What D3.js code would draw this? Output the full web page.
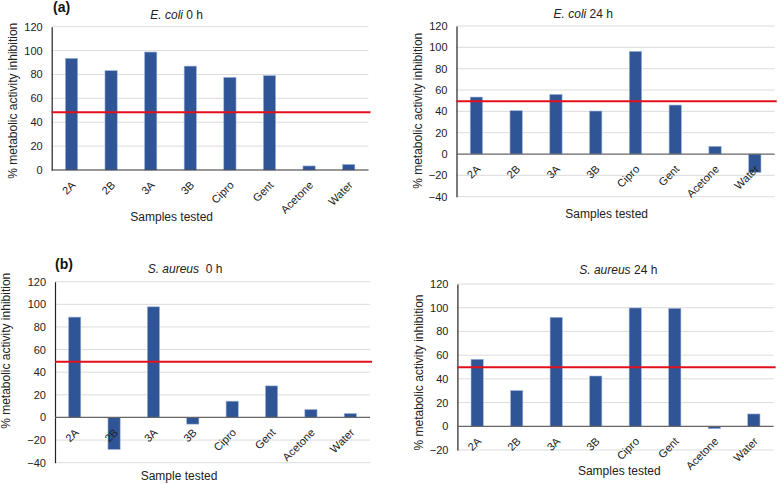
<!DOCTYPE html>
<html><head><meta charset="utf-8">
<script src="https://cdn.jsdelivr.net/npm/d3@7"></script>
<style>
html,body{margin:0;padding:0;background:#fff;}
svg{display:block;font-family:"Liberation Sans",Arial,Helvetica,sans-serif;}
</style></head>
<body>
<svg id="c" width="778" height="484"></svg>
<script>
const categories = ["2A","2B","3A","3B","Cipro","Gent","Acetone","Water"];
const ecoli0    = [93.5, 83.2, 98.8, 87.0, 77.6, 79.0, 3.4, 4.7];
const ecoli24   = [53.4, 40.6, 55.9, 40.3, 96.2, 45.9, 7.2, -17.2];
const saureus0  = [88.7, -28.3, 97.8, -5.9, 14.4, 27.9, 7.0, 3.5];
const saureus24 = [56.5, 30.1, 91.9, 42.4, 99.8, 99.5, -2.0, 10.4];
const thresholds = [48.3, 49.4, 49.2, 49.7];
const ticks1 = [0,20,40,60,80,100,120];
const ticks2 = [-40,-20,0,20,40,60,80,100,120];
const ticks3 = [-40,-20,0,20,40,60,80,100,120];
const ticks4 = [-20,0,20,40,60,80,100,120];
const titles = ["E. coli", "E. coli", "S. aureus", "S. aureus"];
const titleTimes = [" 0 h", " 24 h", "  0 h", " 24 h"];
const xTitles = ["Samples tested","Samples tested","Sample tested","Samples tested"];
const yTitle = "% metabolic activity inhibition";

const panels = [
  {vals: ecoli0, ticks: ticks1, x0:51.7, x1:368.5, yTop:26.7, yBot:170, tx:176.7, ty:19.3, xtx:171.7, xty:220.7, ytx:17.3, yty:100.8, tag:"(a)", tagx:53, tagy:12},
  {vals: ecoli24, ticks: ticks2, x0:456.5, x1:774.7, yTop:26, yBot:196.7, tx:583.3, ty:18.3, xtx:606.7, xty:218.3, ytx:422.3, yty:110.8},
  {vals: saureus0, ticks: ticks3, x0:55, x1:370, yTop:281.7, yBot:462.7, tx:185, ty:273.3, xtx:179, xty:480, ytx:10, yty:350.8, tag:"(b)", tagx:55, tagy:269},
  {vals: saureus24, ticks: ticks4, x0:457.4, x1:773.6, yTop:284, yBot:450, tx:618.3, ty:274.3, xtx:619.3, xty:475, ytx:423.3, yty:372.5}
];

const svg = d3.select("#c");

panels.forEach((p, i) => {
  const g = svg.append("g");
  const dom = d3.extent(p.ticks);
  const y = d3.scaleLinear().domain(dom).range([p.yBot, p.yTop]);
  const x = d3.scaleBand().domain(categories).range([p.x0, p.x1]).paddingInner(0.69).paddingOuter(0.345);

  // gridlines
  g.append("g").selectAll("line").data(p.ticks.filter(t => t !== 0)).join("line")
    .attr("x1", p.x0).attr("x2", p.x1)
    .attr("y1", d => y(d)).attr("y2", d => y(d))
    .attr("stroke", "#dcdcdc").attr("stroke-width", 1);

  // y axis
  const ya = d3.axisLeft(y).tickValues(p.ticks).tickSize(0).tickPadding(9).tickFormat(d3.format("d"));
  const yg = g.append("g").attr("transform", `translate(${p.x0},0)`).call(ya);
  yg.select(".domain").attr("stroke", "#222").attr("stroke-width", 1.2);
  yg.selectAll("text").attr("font-size", "11px").attr("fill", "#222")
    .attr("font-family", '"Liberation Sans",Arial,sans-serif');

  // bars
  g.append("g").selectAll("rect").data(p.vals).join("rect")
    .attr("x", (d, j) => x(categories[j]))
    .attr("width", x.bandwidth())
    .attr("y", d => Math.min(y(d), y(0)))
    .attr("height", d => Math.abs(y(d) - y(0)))
    .attr("fill", "#2f5597").attr("stroke", "#9fb6dc").attr("stroke-width", 0.6);

  // zero line
  g.append("line").attr("x1", p.x0).attr("x2", p.x1)
    .attr("y1", y(0)).attr("y2", y(0))
    .attr("stroke", i === 0 ? "#333" : "#666").attr("stroke-width", 1.2);

  // x axis labels
  const xa = d3.axisBottom(x).tickSize(0).tickPadding(0);
  const xg = g.append("g").attr("transform", `translate(0,${y(0)})`).call(xa);
  xg.select(".domain").remove();
  xg.selectAll("text")
    .attr("font-size", "11px").attr("fill", "#222")
    .attr("font-family", '"Liberation Sans",Arial,sans-serif')
    .attr("text-anchor", "end")
    .attr("dy", "0.35em").attr("y", 0)
    .attr("transform", "translate(2,13) rotate(-45)");

  // threshold
  g.append("line").attr("x1", p.x0).attr("x2", p.x1 + 2)
    .attr("y1", y(thresholds[i])).attr("y2", y(thresholds[i]))
    .attr("stroke", "#e3101c").attr("stroke-width", 2);

  // title
  const t = g.append("text").attr("x", p.tx).attr("y", p.ty).attr("text-anchor", "middle")
    .attr("font-size", "12px").attr("fill", "#222").attr("xml:space", "preserve");
  t.append("tspan").attr("font-style", "italic").text(titles[i]);
  t.append("tspan").text(titleTimes[i]);

  // axis titles
  g.append("text").attr("x", p.xtx).attr("y", p.xty).attr("text-anchor", "middle")
    .attr("font-size", "12px").attr("fill", "#222").text(xTitles[i]);
  g.append("text").attr("transform", `translate(${p.ytx},${p.yty}) rotate(-90)`)
    .attr("text-anchor", "middle").attr("font-size", "12px").attr("fill", "#222").text(yTitle);

  if (p.tag) {
    g.append("text").attr("x", p.tagx).attr("y", p.tagy).attr("font-size", "14px")
      .attr("font-weight", "bold").attr("fill", "#111").text(p.tag);
  }
});
</script>
</body></html>
